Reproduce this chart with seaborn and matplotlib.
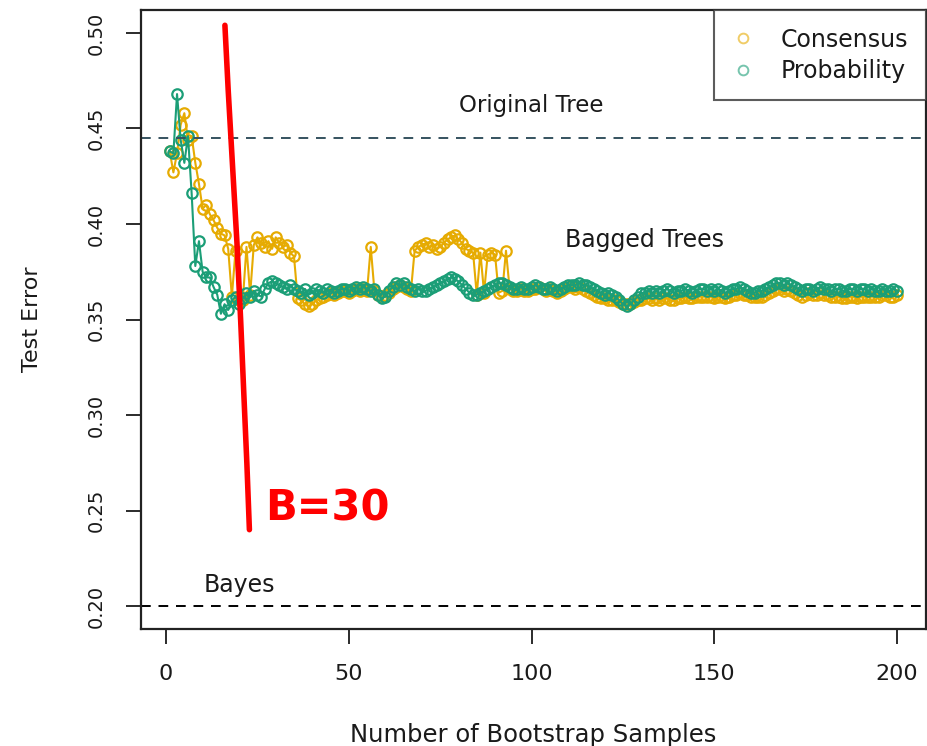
import matplotlib
matplotlib.use("Agg")
import matplotlib.pyplot as plt
from matplotlib.lines import Line2D
import numpy as np
import pandas as pd
import seaborn as sns

# bootstrap sample counts 1..200
n_samples = list(range(1, 201))

consensus_err = [
    0.438, 0.427, 0.437, 0.452, 0.458, 0.444, 0.446, 0.432, 0.421, 0.408,
    0.410, 0.405, 0.402, 0.398, 0.395, 0.394, 0.387, 0.362, 0.386, 0.360,
    0.360, 0.388, 0.363, 0.389, 0.393, 0.390, 0.388, 0.391, 0.387, 0.393,
    0.390, 0.388, 0.389, 0.385, 0.383, 0.361, 0.360, 0.358, 0.357, 0.358,
    0.360, 0.361, 0.362, 0.363, 0.364, 0.363, 0.364, 0.365, 0.365, 0.364,
    0.365, 0.366, 0.365, 0.366, 0.365, 0.388, 0.365, 0.363, 0.362, 0.363,
    0.364, 0.366, 0.367, 0.368, 0.367, 0.366, 0.365, 0.386, 0.388, 0.389,
    0.390, 0.388, 0.389, 0.387, 0.388, 0.390, 0.392, 0.393, 0.394, 0.392,
    0.390, 0.387, 0.386, 0.385, 0.363, 0.385, 0.364, 0.384, 0.385, 0.384,
    0.364, 0.365, 0.386, 0.366, 0.365, 0.365, 0.366, 0.365, 0.365, 0.366,
    0.366, 0.367, 0.366, 0.365, 0.366, 0.365, 0.364, 0.365, 0.366, 0.367,
    0.367, 0.366, 0.367, 0.366, 0.365, 0.364, 0.363, 0.362, 0.361, 0.361,
    0.360, 0.360, 0.360, 0.359, 0.358, 0.358, 0.358, 0.359, 0.360, 0.360,
    0.361, 0.361, 0.360, 0.361, 0.360, 0.361, 0.361, 0.360, 0.360, 0.361,
    0.361, 0.362, 0.361, 0.361, 0.362, 0.362, 0.362, 0.362, 0.362, 0.361,
    0.362, 0.362, 0.361, 0.362, 0.363, 0.363, 0.364, 0.363, 0.363, 0.362,
    0.362, 0.362, 0.362, 0.363, 0.364, 0.365, 0.366, 0.366, 0.365, 0.366,
    0.365, 0.364, 0.363, 0.362, 0.363, 0.364, 0.363, 0.363, 0.364, 0.363,
    0.363, 0.362, 0.362, 0.362, 0.361, 0.361, 0.362, 0.362, 0.361, 0.362,
    0.362, 0.362, 0.362, 0.362, 0.362, 0.363, 0.363, 0.362, 0.362, 0.363,
]

probability_err = [
    0.438, 0.437, 0.468, 0.444, 0.432, 0.446, 0.416, 0.378, 0.391, 0.375,
    0.372, 0.372, 0.367, 0.363, 0.353, 0.358, 0.355, 0.360, 0.362, 0.358,
    0.361, 0.364, 0.362, 0.365, 0.363, 0.362, 0.366, 0.369, 0.370, 0.369,
    0.368, 0.367, 0.366, 0.368, 0.366, 0.365, 0.364, 0.366, 0.363, 0.364,
    0.366, 0.365, 0.364, 0.366, 0.365, 0.364, 0.365, 0.366, 0.366, 0.365,
    0.366, 0.367, 0.366, 0.367, 0.366, 0.365, 0.366, 0.363, 0.361, 0.362,
    0.365, 0.367, 0.369, 0.368, 0.369, 0.367, 0.366, 0.365, 0.366, 0.365,
    0.365, 0.366, 0.367, 0.368, 0.369, 0.370, 0.371, 0.372, 0.371, 0.370,
    0.368, 0.366, 0.364, 0.363, 0.363, 0.364, 0.365, 0.366, 0.367, 0.368,
    0.369, 0.369, 0.368, 0.367, 0.366, 0.366, 0.367, 0.366, 0.366, 0.367,
    0.368, 0.367, 0.366, 0.366, 0.367, 0.366, 0.365, 0.366, 0.367, 0.368,
    0.368, 0.368, 0.369, 0.368, 0.368, 0.367, 0.366, 0.365, 0.364, 0.363,
    0.364, 0.363, 0.362, 0.360, 0.358, 0.357, 0.358, 0.360, 0.362, 0.364,
    0.364, 0.365, 0.364, 0.365, 0.364, 0.365, 0.366, 0.365, 0.364, 0.365,
    0.365, 0.366, 0.365, 0.364, 0.365, 0.366, 0.366, 0.365, 0.366, 0.365,
    0.366, 0.365, 0.364, 0.365, 0.366, 0.366, 0.367, 0.366, 0.365, 0.364,
    0.364, 0.365, 0.365, 0.366, 0.367, 0.368, 0.369, 0.369, 0.368, 0.369,
    0.368, 0.367, 0.366, 0.365, 0.366, 0.366, 0.365, 0.366, 0.367, 0.366,
    0.366, 0.365, 0.366, 0.366, 0.365, 0.365, 0.366, 0.366, 0.365, 0.366,
    0.366, 0.365, 0.366, 0.365, 0.365, 0.366, 0.365, 0.365, 0.366, 0.365,
]

original_tree_err = 0.445
bayes_err = 0.20

# hand-drawn red annotation (B=30)
mark_x = [16.1, 17.0, 18.2, 19.4, 20.4, 21.3, 22.1, 22.8]
mark_y = [0.504, 0.470, 0.430, 0.390, 0.350, 0.310, 0.275, 0.240]

sns.set_style("ticks")
plt.rcParams["font.family"] = ["DejaVu Sans"]

c_cons = "#E6AB02"
c_prob = "#1B9E77"
txt = "#1a1a1a"

fig = plt.figure(figsize=(9.27, 7.46), dpi=100)
ax = fig.add_axes([0.1517, 0.1568, 0.8474, 0.8298])

df = pd.DataFrame({"B": n_samples, "Consensus": consensus_err,
                   "Probability": probability_err})

for col, c in [("Consensus", c_cons), ("Probability", c_prob)]:
    sns.lineplot(data=df, x="B", y=col, ax=ax, color=c, linewidth=1.5,
                 marker="o", markersize=7.5, markerfacecolor="none",
                 markeredgecolor=c, markeredgewidth=1.6, legend=False)

ax.axhline(original_tree_err, color="#35525f", lw=1.4, ls=(0, (5, 4)))
ax.axhline(bayes_err, color="black", lw=1.4, ls=(0, (5, 4)))

ax.text(100, 0.462, "Original Tree", ha="center", va="center", fontsize=16.5, color=txt)
ax.text(131, 0.3915, "Bagged Trees", ha="center", va="center", fontsize=17, color=txt)
ax.text(20, 0.211, "Bayes", ha="center", va="center", fontsize=17, color=txt)

ax.plot(mark_x, mark_y, color="red", lw=4, solid_capstyle="round")
ax.text(27, 0.251, "B=30", color="red", fontsize=30, ha="left", va="center",
        fontweight="bold")

ax.set_xlim(-6.96, 207.96)
ax.set_ylim(0.188, 0.512)
ax.set_xticks([0, 50, 100, 150, 200])
ax.set_yticks([0.20, 0.25, 0.30, 0.35, 0.40, 0.45, 0.50])
ax.set_yticklabels(["0.20", "0.25", "0.30", "0.35", "0.40", "0.45", "0.50"],
                   rotation=90, va="center")
ax.tick_params(axis="x", length=11, width=1.3, pad=14, labelsize=16, colors=txt)
ax.tick_params(axis="y", length=11, width=1.3, pad=14, labelsize=14, colors=txt)
for s in ax.spines.values():
    s.set_visible(True)
    s.set_linewidth(1.6)
    s.set_color("#222222")

ax.set_xlabel("Number of Bootstrap Samples", fontsize=17.5, labelpad=28, color=txt)
ax.set_ylabel("Test Error", fontsize=16, labelpad=32, color=txt)

handles = [
    Line2D([], [], ls="none", marker="o", markersize=7, markerfacecolor="none",
           markeredgecolor=c_cons, markeredgewidth=1.4, alpha=0.6, label="Consensus"),
    Line2D([], [], ls="none", marker="o", markersize=7, markerfacecolor="none",
           markeredgecolor=c_prob, markeredgewidth=1.4, alpha=0.6, label="Probability"),
]
leg = ax.legend(handles=handles, loc="upper right", fontsize=17, frameon=True,
                fancybox=False, borderaxespad=0.0, handlelength=1.0,
                handletextpad=1.1, labelspacing=0.3, borderpad=0.75)
for t in leg.get_texts():
    t.set_color(txt)
leg.get_frame().set_edgecolor("#333333")
leg.get_frame().set_linewidth(1.5)

fig.savefig("out.png", dpi=100)
